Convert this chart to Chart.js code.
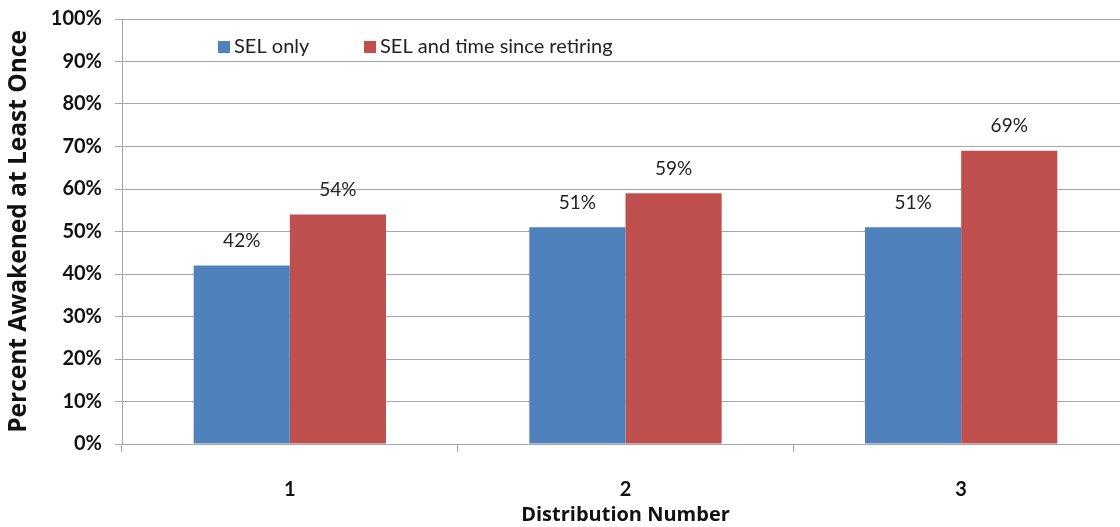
<!DOCTYPE html>
<html>
<head>
<meta charset="utf-8">
<script src="https://cdn.jsdelivr.net/npm/chart.js@4/dist/chart.umd.min.js"></script>
<style>
  html, body { margin: 0; padding: 0; background: #fff; overflow: hidden; }
  #wrap { width: 1129px; height: 527px; }
</style>
</head>
<body>
<div id="wrap"><canvas id="chart"></canvas></div>
<script>
const categories = ['1', '2', '3'];
const selOnly = [42, 51, 51];
const selAndTime = [54, 59, 69];
const seriesNames = ['SEL only', 'SEL and time since retiring'];
const yTicks = [0, 10, 20, 30, 40, 50, 60, 70, 80, 90, 100];

const FONT = 'Lato, "Open Sans", sans-serif';
const TITLE_FONT = '"Open Sans", Lato, sans-serif';
const colors = ['#4F81BD', '#C0504D'];

// labels on top of bars + legend inside the plot
const labelsPlugin = {
    id: 'barLabels',
    afterDatasetsDraw(chart) {
        const ctx = chart.ctx;
        ctx.save();
        ctx.font = '19px ' + FONT;
        ctx.fillStyle = '#222';
        ctx.textAlign = 'center';
        ctx.textBaseline = 'bottom';
        chart.data.datasets.forEach((ds, i) => {
            chart.getDatasetMeta(i).data.forEach((bar, j) => {
                ctx.fillText(ds.data[j] + '%', bar.x, bar.y - 15);
            });
        });

        const area = chart.chartArea;
        let x = area.left + 96;
        const y = area.top + 22;
        ctx.textAlign = 'left';
        ctx.textBaseline = 'middle';
        ctx.font = '20px ' + FONT;
        seriesNames.forEach((name, i) => {
            ctx.fillStyle = colors[i];
            ctx.fillRect(x, y, 12, 12);
            ctx.fillStyle = '#222';
            ctx.fillText(name, x + 16, y + 6);
            x += 146;
        });
        ctx.restore();
    }
};

new Chart(document.getElementById('chart'), {
    type: 'bar',
    data: {
        labels: categories,
        datasets: [
            { label: seriesNames[0], data: selOnly, backgroundColor: colors[0] },
            { label: seriesNames[1], data: selAndTime, backgroundColor: colors[1] }
        ]
    },
    options: {
        responsive: true,
        maintainAspectRatio: false,
        animation: false,
        layout: { padding: { top: 19, left: 0, right: 0, bottom: 0 } },
        plugins: { legend: { display: false }, tooltip: { enabled: false } },
        datasets: { bar: { categoryPercentage: 0.573, barPercentage: 1 } },
        scales: {
            x: {
                grid: { offset: true, drawOnChartArea: false, drawTicks: true, tickLength: 8, color: '#A6A6A6' },
                border: { color: '#A6A6A6' },
                ticks: { padding: 26, color: '#111', font: { family: FONT, size: 20, weight: 'bold' } },
                title: { display: true, text: 'Distribution Number', color: '#111', padding: 0,
                         font: { family: TITLE_FONT, size: 20, weight: 'bold' } },
                afterFit: s => { s.height = 83; }
            },
            y: {
                min: 0, max: 100,
                afterBuildTicks: s => { s.ticks = yTicks.map(v => ({ value: v })); },
                grid: { color: '#A6A6A6', tickLength: 7 },
                border: { color: '#A6A6A6' },
                ticks: { padding: 13, color: '#111', font: { family: FONT, size: 20, weight: 'bold' },
                         callback: v => v + '%' },
                title: { display: true, text: 'Percent Awakened at Least Once', color: '#111', padding: { top: 4 },
                         font: { family: TITLE_FONT, size: 24.5, weight: 'bold' } },
                afterFit: s => { s.width = 122; s.paddingTop = 0; s.paddingBottom = 0; }
            }
        }
    },
    plugins: [labelsPlugin]
});
</script>
</body>
</html>
